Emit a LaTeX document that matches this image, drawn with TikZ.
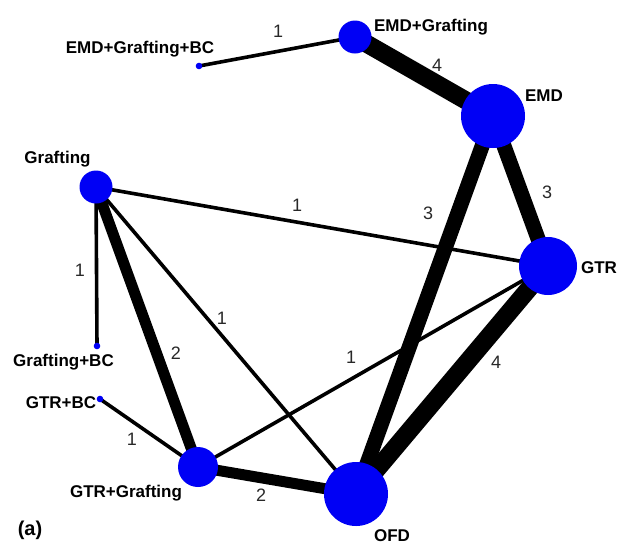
\documentclass[tikz,border=0pt]{standalone}
\usepackage{fontspec}
\setmainfont{Liberation Sans}
\definecolor{nodeblue}{RGB}{0,0,245}
\definecolor{numgray}{RGB}{40,40,40}
\pgfdeclarelayer{paper}
\pgfdeclarelayer{edges}
\pgfsetlayers{paper,edges,main}
\tikzset{
  vertex/.style={circle, fill=nodeblue, draw=none, inner sep=0pt, minimum size=#1},
  vname/.style={anchor=base, inner sep=0pt, font=\fontsize{17}{20}\selectfont\bfseries},
  wnum/.style={anchor=center, inner sep=0pt, text=numgray, font=\fontsize{18}{20}\selectfont},
  wone/.style={line width=3.6pt},
  wtwo/.style={line width=11pt},
  wthree/.style={line width=15pt},
  wfour/.style={line width=18pt}
}
\begin{document}
\begin{tikzpicture}[x=1pt,y=-1pt]
  \begin{pgfonlayer}{paper}
    \fill[white] (0,0) rectangle (617,544);
  \end{pgfonlayer}
  \useasboundingbox (0,0) rectangle (617,544);

  % treatments (circle size ~ number of patients)
  \node[vertex=33pt]  (emdg)     at (355,37)  {};
  \node[vertex=6.6pt] (emdgbc)   at (199,66)  {};
  \node[vertex=64pt]  (emd)      at (493,116) {};
  \node[vertex=33pt]  (graft)    at (96,187)  {};
  \node[vertex=58pt]  (gtr)      at (548,266) {};
  \node[vertex=6.6pt] (graftbc)  at (97,346)  {};
  \node[vertex=6.6pt] (gtrbc)    at (100,399) {};
  \node[vertex=40pt]  (gtrgraft) at (198,467) {};
  \node[vertex=64pt]  (ofd)      at (356,494) {};

  % direct comparisons (line width ~ number of studies)
  \begin{pgfonlayer}{edges}
    \draw[wone]   (emdgbc.center)  -- (emdg.center);
    \draw[wfour]  (emdg.center)    -- (emd.center);
    \draw[wthree] (emd.center)     -- (gtr.center);
    \draw[wthree] (emd.center)     -- (ofd.center);
    \draw[wone]   (graft.center)   -- (gtr.center);
    \draw[wone]   (graft.center)   -- (graftbc.center);
    \draw[wtwo]   (graft.center)   -- (gtrgraft.center);
    \draw[wone]   (graft.center)   -- (ofd.center);
    \draw[wone]   (gtr.center)     -- (gtrgraft.center);
    \draw[wfour]  (gtr.center)     -- (ofd.center);
    \draw[wone]   (gtrbc.center)   -- (gtrgraft.center);
    \draw[wtwo]   (gtrgraft.center)-- (ofd.center);
  \end{pgfonlayer}

  % number of studies per comparison
  \node[wnum] (n1)  at (278,31)  {1};
  \node[wnum] (n2)  at (437,65)  {4};
  \node[wnum] (n3)  at (547,192) {3};
  \node[wnum] (n4)  at (428,213) {3};
  \node[wnum] (n5)  at (496,362) {4};
  \node[wnum] (n6)  at (80,270)  {1};
  \node[wnum] (n7)  at (222,318) {1};
  \node[wnum] (n8)  at (176,353) {2};
  \node[wnum] (n9)  at (297,205) {1};
  \node[wnum] (n10) at (351,357) {1};
  \node[wnum] (n11) at (132,439) {1};
  \node[wnum] (n12) at (261,495) {2};

  % treatment names
  \node[vname] (lemdgbc)   at (140,53)  {EMD+Grafting+BC};
  \node[vname] (lemdg)     at (431,31)  {EMD+Grafting};
  \node[vname] (lemd)      at (544,101) {EMD};
  \node[vname] (lgraft)    at (57.5,163) {Grafting};
  \node[vname] (lgtr)      at (599,273) {GTR};
  \node[vname] (lgraftbc)  at (63.5,366) {Grafting+BC};
  \node[vname] (lgtrbc)    at (61,408)  {GTR+BC};
  \node[vname] (lgtrgraft) at (126,497) {GTR+Grafting};
  \node[vname] (lofd)      at (392,541.5) {OFD};

  \node[anchor=base, inner sep=0pt, font=\fontsize{20}{22}\selectfont\bfseries] (panel) at (30,535) {(a)};
\end{tikzpicture}
\end{document}
